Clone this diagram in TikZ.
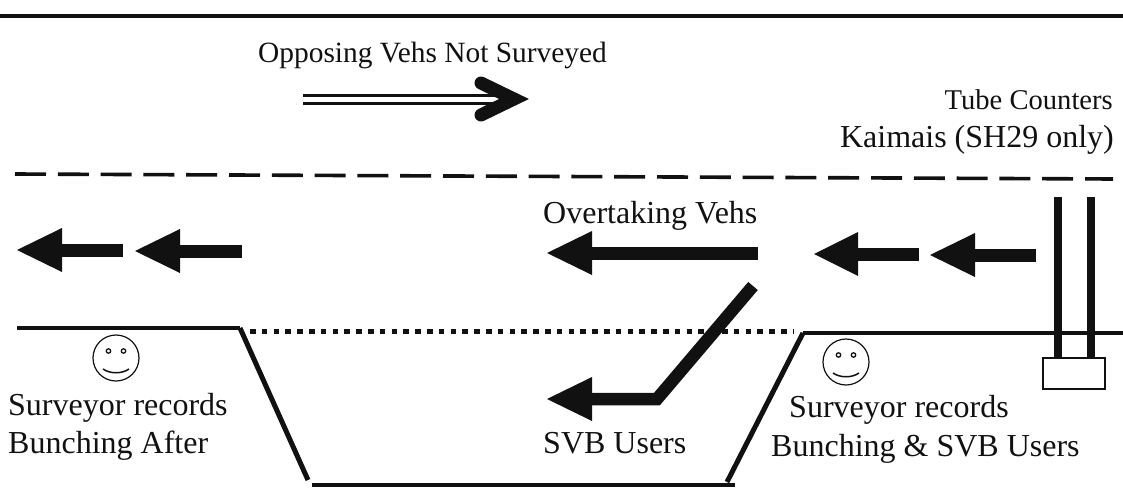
\documentclass[tikz,border=0pt]{standalone}
\usepackage{fontspec}
\setmainfont{Liberation Serif}
\definecolor{ink}{HTML}{111111}
\tikzset{
  lbl/.style={inner sep=0pt,font=\fontsize{32}{36}\selectfont,text=ink,anchor=base west},
  lblsmall/.style={lbl,font=\fontsize{29.4}{34}\selectfont},
  road/.style={draw=ink,line width=3.6pt},
  slant/.style={draw=ink,line width=5pt},
  blockhead/.style={fill=ink,draw=none},
  shaft/.style={draw=ink,line width=13pt},
  tube/.style={draw=ink,line width=7.5pt},
  face/.style={draw=ink,line width=1.2pt,fill=white},
}
\newcommand{\blockarrow}[4]{% tip x, head base x, tail x, y
  \fill[blockhead] (#1,#4) -- (#2,#4-22) -- (#2,#4+22) -- cycle;
  \draw[shaft] (#2,#4) -- (#3,#4);}
\newcommand{\smiley}[2]{%
  \draw[face] (#1,#2) circle (23);
  \draw[draw=ink,line width=1.3pt] (#1-7.5,#2-7) circle (2.2) (#1+7.5,#2-7) circle (2.2);
  \draw[ink,line width=1.5pt] (#1-13,#2+11) .. controls (#1-6,#2+16) and (#1+6,#2+16) .. (#1+13,#2+11);}
\begin{document}
\begin{tikzpicture}[x=1pt,y=-1pt]
\useasboundingbox (0,0) rectangle (1123,487);
% road edges
\coordinate (topL) at (0,16); \coordinate (topR) at (1123,16);
\draw[road] (topL) -- (topR);
\coordinate (cL) at (15,174); \coordinate (cR) at (1113,179);
\draw[ink,line width=3.6pt,dash pattern=on 31pt off 11.8pt] (cL) -- (cR);
\coordinate (l1) at (17,328); \coordinate (l2) at (240,328); \coordinate (l3) at (308,480);
\draw[road] (l1) -- (l2);
\draw[slant] (l2) -- (l3);
\coordinate (b1) at (312,485); \coordinate (b2) at (735,485);
\draw[road] (b1) -- (b2);
\coordinate (r1) at (727,482); \coordinate (r2) at (803,333); \coordinate (r3) at (1123,333);
\draw[slant] (r1) -- (r2);
\draw[road] (r2) -- (r3);
\coordinate (d1) at (250,331); \coordinate (d2) at (793,331);
\draw[ink,line width=5pt,dash pattern=on 5.5pt off 6.3pt] (d1) -- (d2);
% opposing arrow
\coordinate (o1) at (303,95); \coordinate (o2) at (303,103);
\draw[ink,line width=3pt] (o1) -- (510,95) (o2) -- (510,103);
\draw[ink,line width=13pt,line join=miter,line cap=round] (481,83) -- (514,99) -- (481,115);
% vehicle arrows
\blockarrow{17}{62}{123}{250}
\blockarrow{135}{180}{242}{251}
\blockarrow{547}{592}{758}{253}
\blockarrow{814}{858}{919}{254}
\blockarrow{930}{975}{1036}{255}
% SVB path
\coordinate (s1) at (753,286); \coordinate (s2) at (657,399); \coordinate (s3) at (592,399);
\draw[ink,line width=12.5pt,line join=miter] (s1) -- (s2) -- (s3);
\fill[blockhead] (547,399) -- (592,377) -- (592,421) -- cycle;
% tube counters
\coordinate (t1a) at (1058,197); \coordinate (t1b) at (1058,358);
\coordinate (t2a) at (1091,197); \coordinate (t2b) at (1091,358);
\draw[tube] (t1a) -- (t1b) (t2a) -- (t2b);
\node[draw=ink,line width=1.6pt,fill=white,minimum width=62pt,minimum height=31pt,inner sep=0pt] (counter) at (1074,373.5) {};
% faces
\smiley{116}{358}
\smiley{846}{362}
% text
\node[lblsmall] (t1) at (258,63) {Opposing Vehs Not Surveyed};
\node[lblsmall,font=\fontsize{28.6}{34}\selectfont,anchor=base east] (t2) at (1113,109) {Tube Counters};
\node[lbl,anchor=base east] (t3) at (1114,147) {Kaimais (SH29 only)};
\node[lbl] (t4) at (543,223) {Overtaking Vehs};
\node[lbl] (t5) at (8,415) {Surveyor records};
\node[lbl] (t6) at (8,453) {Bunching After};
\node[lbl] (t7) at (543,453) {SVB Users};
\node[lbl] (t8) at (789,417) {Surveyor records};
\node[lbl] (t9) at (771,456) {Bunching \& SVB Users};
\end{tikzpicture}
\end{document}
